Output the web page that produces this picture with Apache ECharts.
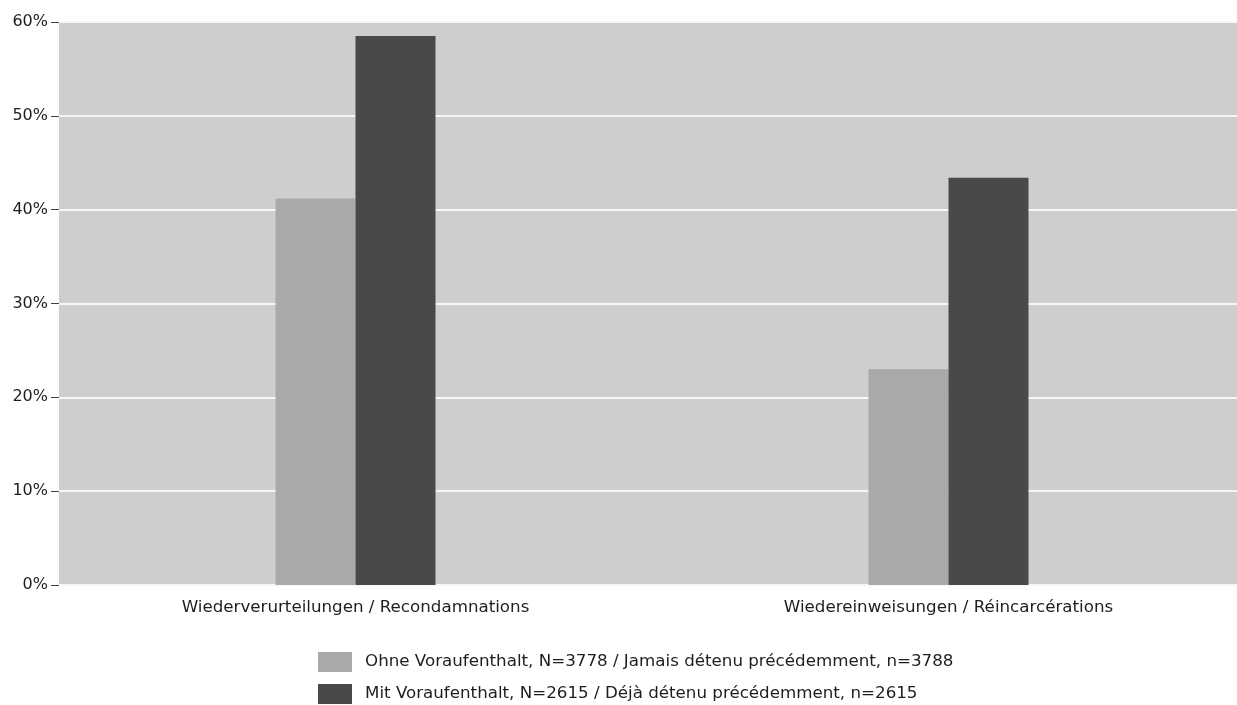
<!DOCTYPE html>
<html>
<head>
<meta charset="utf-8">
<script src="https://cdn.jsdelivr.net/npm/echarts@6/dist/echarts.min.js"></script>
<style>
  html, body { margin: 0; padding: 0; background: #ffffff; overflow: hidden; }
  /* the plot band runs slightly past the right window edge */
  #chart { width: 1250px; height: 705px; }
</style>
</head>
<body>
<div id="chart"></div>
<script>
// Rückfallquoten nach Voraufenthalt (Prozent)
const categories = ['Wiederverurteilungen / Recondamnations', 'Wiedereinweisungen / Réincarcérations'];
const seriesNames = [
  'Ohne Voraufenthalt, N=3778 / Jamais détenu précédemment, n=3788',
  'Mit Voraufenthalt, N=2615 / Déjà détenu précédemment, n=2615'
];
const ohneVoraufenthalt = [41.2, 23.0];
const mitVoraufenthalt = [58.5, 43.4];
const yTicks = [0, 10, 20, 30, 40, 50, 60];

const font = '"DejaVu Sans", "Liberation Sans", Arial, sans-serif';
const colors = ['#a9a9a9', '#494949'];
const chart = echarts.init(document.getElementById('chart'), null, { renderer: 'canvas' });

// one legend block per row, stacked vertically under the plot
function legendRow(name, top) {
  return {
    left: 313, top: top,
    itemWidth: 34, itemHeight: 20,
    icon: 'rect',
    selectedMode: false,
    textStyle: { fontSize: 16.7, lineHeight: 20, color: '#1e1e1e', fontFamily: font, padding: [0, 0, 0, 8] },
    data: [name]
  };
}

chart.setOption({
  animation: false,
  backgroundColor: '#ffffff',
  textStyle: { fontFamily: font },
  grid: {
    left: 59, right: 5, top: 22, bottom: 120,
    show: true, backgroundColor: '#cecece', borderWidth: 0
  },
  legend: [legendRow(seriesNames[0], 647), legendRow(seriesNames[1], 679)],
  xAxis: {
    type: 'category',
    data: categories,
    axisLine: { show: false },
    axisTick: { show: false },
    axisLabel: { fontSize: 16.7, color: '#1e1e1e', margin: 14, fontFamily: font }
  },
  yAxis: {
    type: 'value',
    min: yTicks[0], max: yTicks[yTicks.length - 1], interval: 10,
    axisLine: { show: false },
    axisTick: { show: true, length: 8, lineStyle: { color: '#444', width: 1 } },
    axisLabel: { fontSize: 16, color: '#1e1e1e', margin: 11, fontFamily: font, formatter: v => v + '%' },
    splitLine: { show: true, lineStyle: { color: '#f6f6f6', width: 2 } }
  },
  series: [
    {
      name: seriesNames[0], type: 'bar', data: ohneVoraufenthalt,
      barWidth: 80, barGap: '0%',
      itemStyle: { color: colors[0] }
    },
    {
      name: seriesNames[1], type: 'bar', data: mitVoraufenthalt,
      barWidth: 80, barGap: '0%',
      itemStyle: { color: colors[1] }
    }
  ]
});
</script>
</body>
</html>
